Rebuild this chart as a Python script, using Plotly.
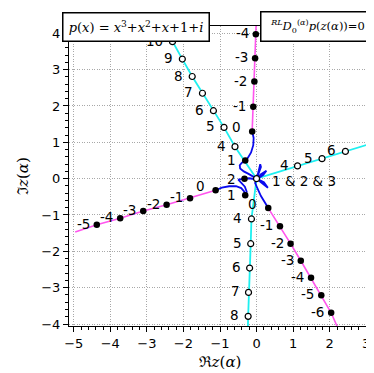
import plotly.graph_objects as go

# ---------------- data ----------------
# magenta branches (alpha <= 0), labelled points
mag_up_alpha = [0, -1, -2, -3, -4]
mag_up_re = [-0.12, -0.09, -0.06, -0.04, -0.02]
mag_up_im = [1.30, 1.98, 2.67, 3.31, 3.97]
mag_up_tail = (-0.01, 4.30)

mag_left_alpha = [0, -1, -2, -3, -4, -5]
mag_left_re = [-1.12, -1.82, -2.46, -3.10, -3.73, -4.37]
mag_left_im = [-0.32, -0.54, -0.72, -0.89, -1.09, -1.27]
mag_left_tail = (-4.96, -1.47)

mag_low_alpha = [0, -1, -2, -3, -4, -5, -6]
mag_low_re = [0.32, 0.64, 0.93, 1.21, 1.49, 1.77, 2.04]
mag_low_im = [-0.81, -1.31, -1.79, -2.26, -2.73, -3.21, -3.69]
mag_low_tail = (2.24, -4.15)

# cyan branches (alpha >= 3), labelled points
cy_up_alpha = [4, 5, 6, 7, 8, 9, 10]
cy_up_re = [-0.59, -0.89, -1.18, -1.48, -1.76, -2.03, -2.30]
cy_up_im = [0.88, 1.41, 1.87, 2.35, 2.81, 3.29, 3.77]
cy_up_tail = (-2.45, 4.05)

cy_low_alpha = [4, 5, 6, 7, 8]
cy_low_re = [-0.14, -0.16, -0.19, -0.22, -0.23]
cy_low_im = [-1.11, -1.79, -2.46, -3.13, -3.79]
cy_low_tail = (-0.24, -4.20)

cy_right_alpha = [4, 5, 6]
cy_right_re = [1.12, 1.79, 2.43]
cy_right_im = [0.35, 0.55, 0.75]
cy_right_tail = (3.25, 1.00)

# blue branches (0 <= alpha <= 3), traced paths
blue_a_re = [-0.12, -0.08, -0.09, -0.15, -0.24, -0.31, -0.40, -0.46, -0.45, -0.35, -0.22, -0.10, 0.0,
             0.05, 0.10, 0.12, 0.07, 0.02, 0.0]
blue_a_im = [1.30, 1.12, 0.92, 0.72, 0.57, 0.50, 0.44, 0.37, 0.28, 0.20, 0.13, 0.06, 0.0,
             0.18, 0.40, 0.32, 0.15, 0.04, 0.0]
blue_b_re = [-1.12, -0.95, -0.75, -0.56, -0.42, -0.34, -0.31, -0.27, -0.32, -0.42, -0.50, -0.33,
             -0.20, -0.08, 0.0]
blue_b_im = [-0.32, -0.25, -0.21, -0.21, -0.26, -0.35, -0.46, -0.36, -0.22, -0.10, -0.03, 0.0,
             0.01, -0.01, 0.0]
blue_c_re = [0.32, 0.22, 0.12, 0.04, -0.04, 0.0, 0.12, 0.27, 0.18, 0.06, 0.0,
             0.12, 0.31, 0.20, 0.06, 0.0]
blue_c_im = [-0.81, -0.65, -0.48, -0.30, -0.12, 0.0, 0.12, 0.22, 0.10, 0.02, 0.0,
             -0.10, -0.25, -0.10, -0.02, 0.0]

blue_pts_label = ["1", "1", "2"]
blue_pts_re = [-0.31, -0.31, -0.33]
blue_pts_im = [0.50, -0.46, 0.0]
origin_label = "1 & 2 & 3"
origin_re, origin_im = 0.0, 0.0

x_ticks = [-5, -4, -3, -2, -1, 0, 1, 2, 3]
y_ticks = [-4, -3, -2, -1, 0, 1, 2, 3, 4]
x_tick_text = ["\u22125", "\u22124", "\u22123", "\u22122", "\u22121", "0", "1", "2", "3"]
y_tick_text = ["\u22124", "\u22123", "\u22122", "\u22121", "0", "1", "2", "3", "4"]

MAG = "#ff55ee"
CYAN = "#1ef0f0"
BLUE = "#0a0aee"
LAB_FONT = dict(family="DejaVu Sans", size=13.5, color="black")

fig = go.Figure()

def line(xs, ys, color, width=1.6):
    fig.add_trace(go.Scatter(x=xs, y=ys, mode="lines", line=dict(color=color, width=width),
                             hoverinfo="skip", showlegend=False, cliponaxis=True))

# magenta lines
for re, im, tail in [(mag_up_re, mag_up_im, mag_up_tail),
                     (mag_left_re, mag_left_im, mag_left_tail),
                     (mag_low_re, mag_low_im, mag_low_tail)]:
    line(re + [tail[0]], im + [tail[1]], MAG)

# cyan lines (start at the origin)
for re, im, tail in [(cy_up_re, cy_up_im, cy_up_tail),
                     (cy_low_re, cy_low_im, cy_low_tail),
                     (cy_right_re, cy_right_im, cy_right_tail)]:
    line([origin_re] + re + [tail[0]], [origin_im] + im + [tail[1]], CYAN, 1.8)

# blue lines
for re, im in [(blue_a_re, blue_a_im), (blue_b_re, blue_b_im), (blue_c_re, blue_c_im)]:
    line(re, im, BLUE, 1.8)

# filled markers
fig.add_trace(go.Scatter(
    x=mag_up_re + mag_left_re + mag_low_re + blue_pts_re,
    y=mag_up_im + mag_left_im + mag_low_im + blue_pts_im,
    mode="markers", marker=dict(size=6.5, color="black"),
    hoverinfo="skip", showlegend=False))
# open markers
fig.add_trace(go.Scatter(
    x=cy_up_re + cy_low_re + cy_right_re + [origin_re],
    y=cy_up_im + cy_low_im + cy_right_im + [origin_im],
    mode="markers", marker=dict(size=6, color="white", line=dict(color="black", width=1.2)),
    hoverinfo="skip", showlegend=False))

annotations = []

def labels(alphas, res, ims, xshift, yshift=1):
    for a, x, y in zip(alphas, res, ims):
        sh = xshift
        ys = yshift
        if a == 0:
            sh = xshift - 4
            ys = yshift + 3
        annotations.append(dict(x=x, y=y, text=str(a), showarrow=False, xanchor="right",
                                yanchor="middle", xshift=sh, yshift=ys, font=LAB_FONT))

labels(mag_up_alpha, mag_up_re, mag_up_im, -5)
labels(mag_left_alpha, mag_left_re, mag_left_im, -5)
labels(mag_low_alpha, mag_low_re, mag_low_im, -5)
labels(cy_up_alpha, cy_up_re, cy_up_im, -7)
labels(cy_low_alpha, cy_low_re, cy_low_im, -7)
labels(cy_right_alpha, cy_right_re, cy_right_im, -7)
for t, x, y in zip(blue_pts_label, blue_pts_re, blue_pts_im):
    annotations.append(dict(x=x, y=y, text=t, showarrow=False, xanchor="right",
                            yanchor="middle", xshift=-7, yshift=0, font=LAB_FONT))
annotations.append(dict(x=origin_re, y=origin_im, text=origin_label, showarrow=False,
                        xanchor="left", yanchor="middle", xshift=13, yshift=-2, font=LAB_FONT))

# boxed formula captions (drawn last, on top)
annotations.append(dict(
    xref="paper", yref="paper", x=0.2235, y=0.9967, xanchor="center", yanchor="middle",
    text="<i>p</i>(<i>x</i>) = <i>x</i><sup>3</sup>+<i>x</i><sup>2</sup>+<i>x</i>+1+<i>i</i>",
    showarrow=False, bgcolor="white", bordercolor="black", borderwidth=1.5, borderpad=3,
    width=139, height=21, font=dict(family="DejaVu Serif", size=13, color="black")))
annotations.append(dict(
    xref="paper", yref="paper", x=0.8228, y=1.0, xanchor="center", yanchor="middle",
    text="<sup><i>RL</i></sup><i>D</i><sub>0</sub><sup>(<i>α</i>)</sup><i>p</i>(<i>z</i>(<i>α</i>))=0",
    showarrow=False, bgcolor="white", bordercolor="black", borderwidth=1.5, borderpad=3,
    width=106, height=22, font=dict(family="DejaVu Serif", size=11.5, color="black")))

axis_common = dict(showline=True, linecolor="black", linewidth=1.2, mirror=True,
                   ticks="outside", ticklen=5, tickwidth=1, tickcolor="black",
                   showgrid=True, gridcolor="#a8a8a8", griddash="1px,1.5px", gridwidth=1,
                   zeroline=False, tickfont=dict(family="DejaVu Sans", size=13, color="black"),
                   minor=dict(ticks="outside", ticklen=2.5, tickcolor="black", dtick=0.2,
                              showgrid=False))

fig.update_layout(
    width=374, height=373,
    margin=dict(l=61, r=11, t=18, b=55),
    paper_bgcolor="white", plot_bgcolor="white",
    showlegend=False,
    annotations=annotations,
    xaxis=dict(range=[-5.13, 3.13], tickvals=x_ticks, ticktext=x_tick_text,
               title=dict(text="\u211c<i>z</i>(<i>α</i>)", standoff=6,
                          font=dict(family="DejaVu Serif", size=15, color="black")),
               **axis_common),
    yaxis=dict(range=[-4.055, 4.20], tickvals=y_ticks, ticktext=y_tick_text,
               title=dict(text="\u2111<i>z</i>(<i>α</i>)", standoff=8,
                          font=dict(family="DejaVu Serif", size=15, color="black")),
               **axis_common),
)

fig.write_html("out.html")
